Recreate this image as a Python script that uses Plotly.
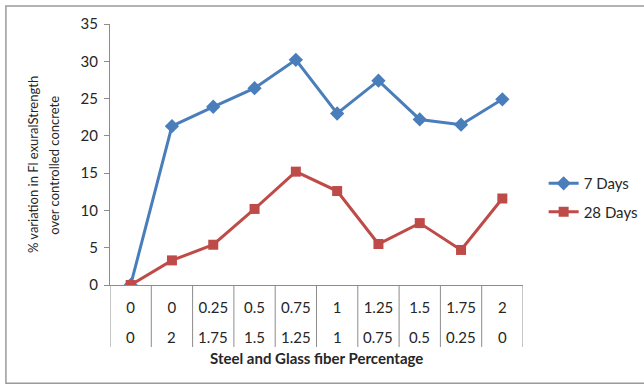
import plotly.graph_objects as go

# Fibre dosages (%) for each mix
steel = ["0", "0", "0.25", "0.5", "0.75", "1", "1.25", "1.5", "1.75", "2"]
glass = ["0", "2", "1.75", "1.5", "1.25", "1", "0.75", "0.5", "0.25", "0"]

# % variation in flexural strength over controlled concrete
days7 = [0, 21.3, 23.9, 26.4, 30.2, 23.0, 27.4, 22.2, 21.5, 24.9]
days28 = [0, 3.3, 5.4, 10.2, 15.2, 12.6, 5.5, 8.3, 4.7, 11.6]

font_family = "Lato, 'Open Sans', sans-serif"
blue = "#4A7EBB"
red = "#BE4B48"
grid_grey = "#8C8C8C"
text_col = "#262626"

# one category per mix (steel / glass pair)
mix = [f"{s} / {g}" for s, g in zip(steel, glass)]

fig = go.Figure()
fig.add_trace(go.Scatter(
    x=mix, y=days7, name="7 Days", mode="lines+markers", legendgroup="a",
    line=dict(color=blue, width=3),
    marker=dict(symbol="diamond", size=11, color=blue),
))
fig.add_trace(go.Scatter(
    x=mix, y=days28, name="28 Days", mode="lines+markers", legendgroup="b",
    line=dict(color=red, width=3),
    marker=dict(symbol="square", size=10, color=red),
))

# data table under the axis: glass row as annotations, cell borders as lines
annotations = []
shapes = []
for i, g in enumerate(glass):
    annotations.append(dict(
        x=mix[i], y=-0.199, xref="x", yref="paper", text=g, showarrow=False,
        xanchor="center", yanchor="middle",
        font=dict(size=15, color=text_col, family=font_family)))
for i in range(len(mix) + 1):
    shapes.append(dict(
        type="line", xref="x", yref="paper", x0=i - 0.5, x1=i - 0.5,
        y0=0, y1=-0.2375, line=dict(color=grid_grey, width=1)))

annotations += [
    dict(x=0.5, y=-0.28, xref="paper", yref="paper",
         text="<b>Steel and Glass fiber Percentage</b>", showarrow=False,
         xanchor="center", yanchor="middle",
         font=dict(size=15, color=text_col, family=font_family)),
    dict(x=-0.186, y=0.46, xref="paper", yref="paper",
         text="% variation in Fl exuralStrength", showarrow=False,
         textangle=-90, xanchor="center", yanchor="middle",
         font=dict(size=13, color=text_col, family=font_family)),
    dict(x=-0.136, y=0.46, xref="paper", yref="paper",
         text="over controlled concrete", showarrow=False,
         textangle=-90, xanchor="center", yanchor="middle",
         font=dict(size=13, color=text_col, family=font_family)),
]

# outer chart frame
shapes.append(dict(type="rect", xref="paper", yref="paper",
                   x0=-0.252, x1=1.4, y0=-0.376, y1=1.069,
                   line=dict(color="#9A9A9A", width=1.5), layer="below"))

fig.update_layout(
    width=644, height=385,
    margin=dict(l=110, r=121, t=24, b=100, autoexpand=False),
    paper_bgcolor="white", plot_bgcolor="white",
    font=dict(family=font_family, size=15, color=text_col),
    showlegend=True,
    legend=dict(x=1.05, y=0.335, xanchor="left", yanchor="middle",
                font=dict(size=15), bgcolor="rgba(0,0,0,0)",
                traceorder="grouped", tracegroupgap=6),
    xaxis=dict(
        type="category", range=[-0.5, len(mix) - 0.5],
        tickvals=mix, ticktext=steel,
        showline=True, linecolor=grid_grey, linewidth=1,
        ticks="", showgrid=False, zeroline=False,
        ticklabelstandoff=9,
        tickfont=dict(size=15, color=text_col),
    ),
    yaxis=dict(
        range=[0, 35], dtick=5, showline=True, linecolor=grid_grey,
        linewidth=1, ticks="outside", ticklen=5, tickcolor=grid_grey,
        showgrid=False, zeroline=False, ticklabelstandoff=3,
        tickfont=dict(size=15, color=text_col),
    ),
    annotations=annotations,
    shapes=shapes,
)

fig.write_html("out.html")
